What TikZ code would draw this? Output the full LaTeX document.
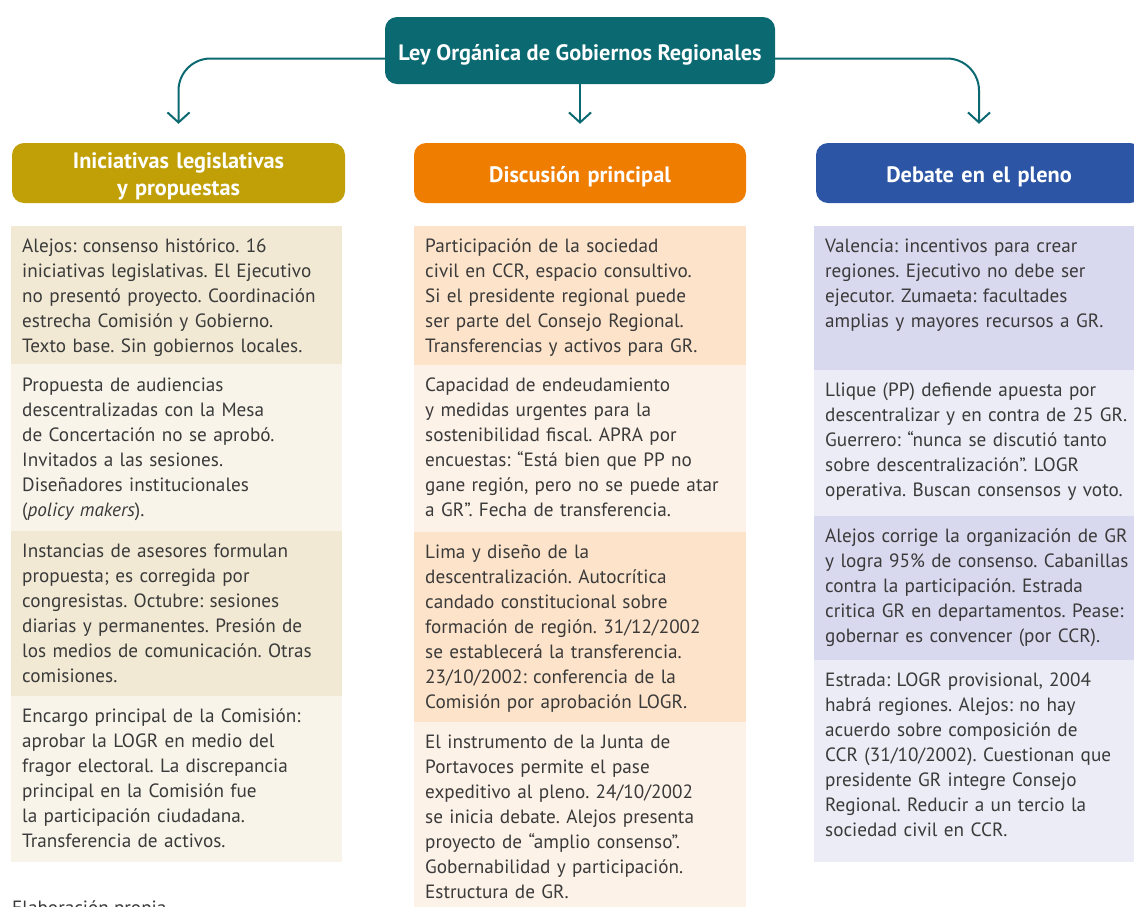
\documentclass[tikz,border=0pt]{standalone}
\usepackage{fontspec}
\setmainfont{PT Sans}
\usetikzlibrary{arrows.meta}
\definecolor{tealc}{HTML}{0A6971}
\definecolor{goldc}{HTML}{C0A006}
\definecolor{orangec}{HTML}{EF7D00}
\definecolor{bluec}{HTML}{2C56A5}
\definecolor{Ldark}{HTML}{F1E9D4}
\definecolor{Llight}{HTML}{F8F4E9}
\definecolor{Mdark}{HTML}{FDE3C9}
\definecolor{Mlight}{HTML}{FDF2E8}
\definecolor{Rdark}{HTML}{D8D9EE}
\definecolor{Rlight}{HTML}{ECECF6}
\definecolor{txtc}{HTML}{3A3A3A}
\tikzset{
  cellbox/.style={anchor=north west, inner sep=0pt, outer sep=0pt, fill=#1, minimum width=331pt},
  celltext/.style={anchor=base west, inner sep=0pt, text width=325pt, align=left, text=txtc,
    font=\frenchspacing\fontsize{19.2}{25}\selectfont},
  headbox/.style={rounded corners=12pt, fill=#1, minimum height=60pt, inner sep=0pt, text=white,
    text width=310pt, align=center, text height=23pt, text depth=4pt,
    font=\bfseries\fontsize{22.3}{27}\selectfont},
  conn/.style={draw=tealc, line width=2pt, rounded corners=32pt, -{Straight Barb[length=10pt,width=22pt,line width=2pt]}}
}
\begin{document}
\begin{tikzpicture}[x=1pt,y=-1pt]
\useasboundingbox (0,0) rectangle (1134,906);
% top node
\node[rounded corners=12pt, fill=tealc, minimum width=390pt, minimum height=67pt, text=white,
  inner sep=0pt, text height=24pt, text depth=4pt,
  font=\bfseries\fontsize{22.3}{25}\selectfont] (top) at (580,50.5) {Ley Orgánica de Gobiernos Regionales};
% headers
\node[headbox=goldc, minimum width=333pt, text depth=32pt] (hL) at (178.5,173) {Iniciativas legislativas\\y propuestas};
\node[headbox=orangec, minimum width=332pt] (hM) at (580,173) {Discusión principal};
\node[headbox=bluec, minimum width=326pt] (hR) at (979,173) {Debate en el pleno};
% connectors
\draw[conn] ([yshift=-8pt]top.west) -| ([yshift=19pt]hL.north);
\draw[conn] (top.south) -- ([yshift=19pt]hM.north);
\draw[conn] ([yshift=-8pt]top.east) -| ([yshift=19pt]hR.north);
% left column cells
\node[cellbox=Ldark, minimum height=138pt] (cL1) at (11,226) {};
\node[cellbox=Llight, minimum height=167pt] (cL2) at (11,364) {};
\node[cellbox=Ldark, minimum height=165pt] (cL3) at (11,531) {};
\node[cellbox=Llight, minimum height=166pt] (cL4) at (11,696) {};
% middle column cells
\node[cellbox=Mdark, minimum width=332pt, minimum height=139pt] (cM1) at (414,226) {};
\node[cellbox=Mlight, minimum width=332pt, minimum height=167pt] (cM2) at (414,365) {};
\node[cellbox=Mdark, minimum width=332pt, minimum height=190pt] (cM3) at (414,532) {};
\node[cellbox=Mlight, minimum width=332pt, minimum height=200pt] (cM4) at (414,722) {};
% right column cells
\node[cellbox=Rdark, minimum width=330pt, minimum height=144pt] (cR1) at (814,226) {};
\node[cellbox=Rlight, minimum width=330pt, minimum height=146pt] (cR2) at (814,370) {};
\node[cellbox=Rdark, minimum width=330pt, minimum height=144pt] (cR3) at (814,516) {};
\node[cellbox=Rlight, minimum width=330pt, minimum height=202pt] (cR4) at (814,660) {};
% left texts
\node[celltext] (tL1) at ([xshift=11pt,yshift=-26pt]cL1.north west) {Alejos: consenso histórico. 16\\iniciativas legislativas. El Ejecutivo\\no presentó proyecto. Coordinación\\estrecha Comisión y Gobierno.\\Texto base. Sin gobiernos locales.};
\node[celltext] (tL2) at ([xshift=11pt,yshift=-27pt]cL2.north west) {Propuesta de audiencias\\descentralizadas con la Mesa\\de Concertación no se aprobó.\\Invitados a las sesiones.\\Diseñadores institucionales\\(\textit{policy makers}).};
\node[celltext] (tL3) at ([xshift=11pt,yshift=-26pt]cL3.north west) {Instancias de asesores formulan\\propuesta; es corregida por\\congresistas. Octubre: sesiones\\diarias y permanentes. Presión de\\los medios de comunicación. Otras\\comisiones.};
\node[celltext] (tL4) at ([xshift=11pt,yshift=-26pt]cL4.north west) {Encargo principal de la Comisión:\\aprobar la LOGR en medio del\\fragor electoral. La discrepancia\\principal en la Comisión fue\\la participación ciudadana.\\Transferencia de activos.};
% middle texts
\node[celltext] (tM1) at ([xshift=11pt,yshift=-26pt]cM1.north west) {Participación de la sociedad\\civil en CCR, espacio consultivo.\\Si el presidente regional puede\\ser parte del Consejo Regional.\\Transferencias y activos para GR.};
\node[celltext] (tM2) at ([xshift=11pt,yshift=-26pt]cM2.north west) {Capacidad de endeudamiento\\y medidas urgentes para la\\sostenibilidad fiscal. APRA por\\encuestas: “Está bien que PP no\\gane región, pero no se puede atar\\a GR”. Fecha de transferencia.};
\node[celltext] (tM3) at ([xshift=11pt,yshift=-26pt]cM3.north west) {Lima y diseño de la\\descentralización. Autocrítica\\candado constitucional sobre\\formación de región. 31/12/2002\\se establecerá la transferencia.\\23/10/2002: conferencia de la\\Comisión por aprobación LOGR.};
\node[celltext] (tM4) at ([xshift=11pt,yshift=-26pt]cM4.north west) {El instrumento de la Junta de\\Portavoces permite el pase\\expeditivo al pleno. 24/10/2002\\se inicia debate. Alejos presenta\\proyecto de “amplio consenso”.\\Gobernabilidad y participación.\\Estructura de GR.};
% right texts
\node[celltext] (tR1) at ([xshift=11pt,yshift=-26pt]cR1.north west) {Valencia: incentivos para crear\\regiones. Ejecutivo no debe ser\\ejecutor. Zumaeta: facultades\\amplias y mayores recursos a GR.};
\node[celltext] (tR2) at ([xshift=11pt,yshift=-26pt]cR2.north west) {Llique (PP) defiende apuesta por\\descentralizar y en contra de 25 GR.\\Guerrero: “nunca se discutió tanto\\sobre descentralización”. LOGR\\operativa. Buscan consensos y voto.};
\node[celltext] (tR3) at ([xshift=11pt,yshift=-26pt]cR3.north west) {Alejos corrige la organización de GR\\y logra 95\% de consenso. Cabanillas\\contra la participación. Estrada\\critica GR en departamentos. Pease:\\gobernar es convencer (por CCR).};
\node[celltext] (tR4) at ([xshift=11pt,yshift=-26pt]cR4.north west) {Estrada: LOGR provisional, 2004\\habrá regiones. Alejos: no hay\\acuerdo sobre composición de\\CCR (31/10/2002). Cuestionan que\\presidente GR integre Consejo\\Regional. Reducir a un tercio la\\sociedad civil en CCR.};
% source note
\node[anchor=base west, inner sep=0pt, text=txtc, font=\fontsize{19.2}{25}\selectfont] (src) at (12,914) {Elaboración propia};
\end{tikzpicture}
\end{document}
